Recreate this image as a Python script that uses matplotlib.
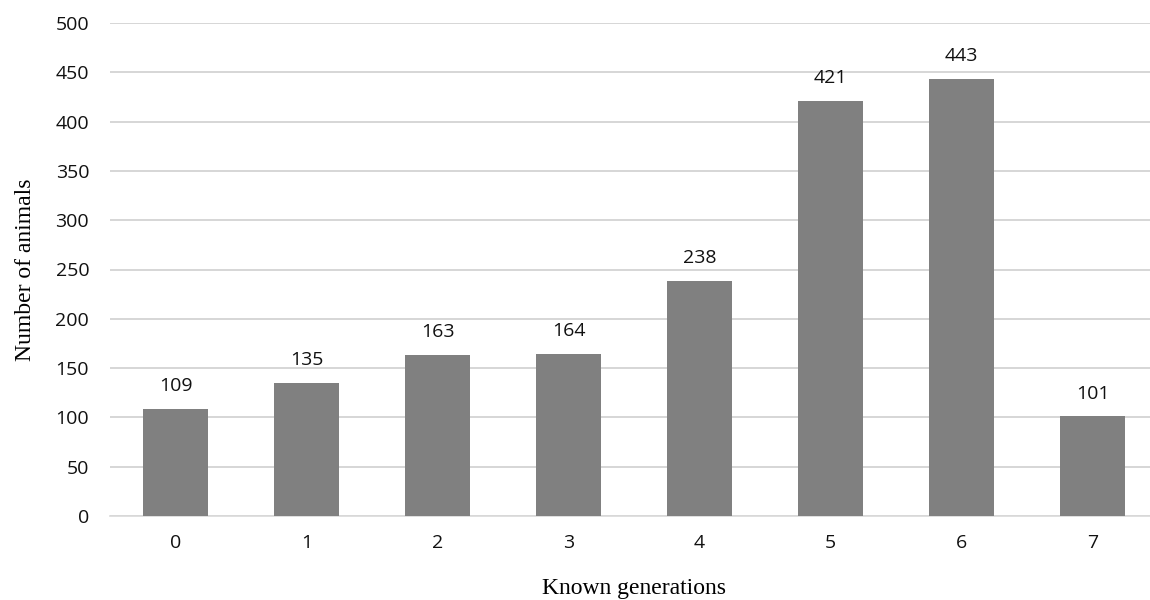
import matplotlib.pyplot as plt

generations = ['0', '1', '2', '3', '4', '5', '6', '7']
animals = [109, 135, 163, 164, 238, 421, 443, 101]
y_ticks = [0, 50, 100, 150, 200, 250, 300, 350, 400, 450, 500]


def main():
    fig = plt.figure(figsize=(11.5, 6), dpi=100)
    ax = fig.add_axes([110 / 1150, 84 / 600, 1048 / 1150, 493 / 600])

    x = range(len(generations))
    ax.bar(x, animals, width=0.5, color='#808080', zorder=3)

    for xi, val in zip(x, animals):
        ax.annotate(str(val), (xi, val), xytext=(0, 10), textcoords='offset points',
                    ha='center', va='bottom', fontsize=14, family='Open Sans',
                    color='#111111')

    ax.set_ylim(0, 500)
    ax.set_xlim(-0.5, len(generations) - 0.5)
    ax.set_yticks(y_ticks)
    ax.set_xticks(list(x))
    ax.set_xticklabels(generations)
    ax.yaxis.grid(True, color='#d0d0d0', linewidth=1.2, zorder=0)
    ax.tick_params(axis='y', length=0, labelsize=14, colors='#111111', pad=15)
    ax.tick_params(axis='x', length=0, labelsize=14, colors='#111111', pad=13)
    for lbl in ax.get_xticklabels() + ax.get_yticklabels():
        lbl.set_family('Open Sans')

    for side in ['top', 'right', 'left']:
        ax.spines[side].set_visible(False)
    ax.spines['bottom'].set_color('#d9d9d9')
    ax.spines['bottom'].set_linewidth(1.2)

    ax.set_ylabel('Number of animals', family='Liberation Serif', fontsize=17,
                  labelpad=14)
    ax.set_xlabel('Known generations', family='Liberation Serif', fontsize=17,
                  labelpad=19)

    fig.savefig('out.png', dpi=100)


if __name__ == '__main__':
    main()
